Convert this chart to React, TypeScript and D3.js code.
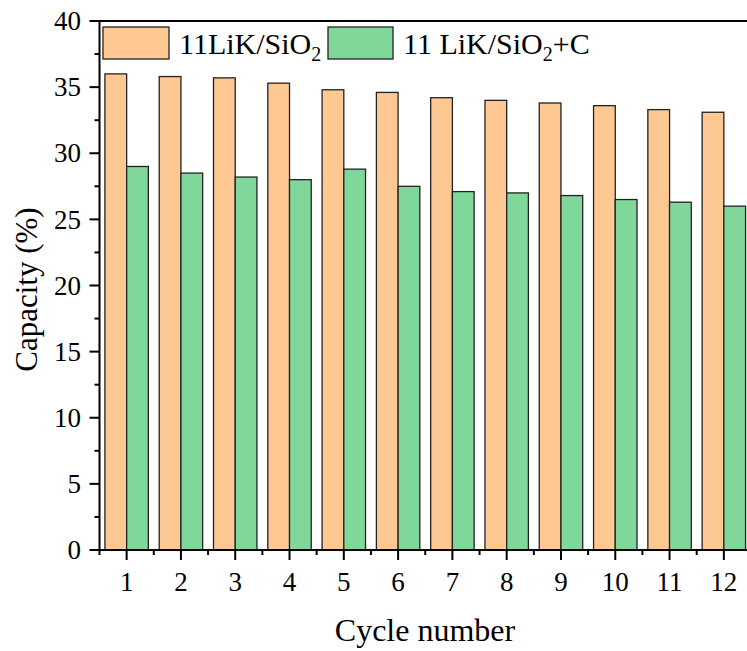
import * as d3 from 'd3';
import React from 'react';

// cycle numbers on the x axis
const cycles = [1, 2, 3, 4, 5, 6, 7, 8, 9, 10, 11, 12];
// capacity (%) per cycle
const capSiO2 = [36.0, 35.8, 35.7, 35.3, 34.8, 34.6, 34.2, 34.0, 33.8, 33.6, 33.3, 33.1];
const capSiO2C = [29.0, 28.5, 28.2, 28.0, 28.8, 27.5, 27.1, 27.0, 26.8, 26.5, 26.3, 26.0];
const yTicks = [0, 5, 10, 15, 20, 25, 30, 35, 40];

const W = 747, H = 651;
const font = '"Liberation Serif", "Times New Roman", serif';

export default function App() {
  const x = d3.scaleLinear().domain([0.5, 12.5]).range([99.5, 751]);
  const y = d3.scaleLinear().domain([0, 40]).range([550, 21]);
  const barW = 0.4;

  const minorY = d3.range(2.5, 40, 5);
  const minorX = d3.range(0.5, 13, 1);

  const series = [
    { vals: capSiO2, fill: '#FEC892', off: -barW },
    { vals: capSiO2C, fill: '#7FD89A', off: 0 },
  ];

  return (
    <svg width={W} height={H} style={{ position: 'absolute', left: 0, top: 0, background: '#fff' }}
      fontFamily={font}>
      {series.map((s, si) => (
        <g key={si}>
          {cycles.map((c, i) => (
            <rect key={c}
              x={x(c + s.off)} y={y(s.vals[i])}
              width={x(c + s.off + barW) - x(c + s.off)}
              height={y(0) - y(s.vals[i])}
              fill={s.fill} stroke="#222" strokeWidth={1.3} />
          ))}
        </g>
      ))}

      {/* frame */}
      <line x1={x.range()[0]} x2={W} y1={y(40)} y2={y(40)} stroke="#000" strokeWidth={2} />
      <line x1={x.range()[0]} x2={x.range()[0]} y1={y(40) - 1} y2={y(0) + 1} stroke="#000" strokeWidth={2} />
      <line x1={x.range()[0] - 1} x2={W} y1={y(0)} y2={y(0)} stroke="#000" strokeWidth={2} />

      {/* y ticks */}
      {yTicks.map(t => (
        <g key={t}>
          <line x1={x.range()[0] - 10} x2={x.range()[0]} y1={y(t)} y2={y(t)} stroke="#000" strokeWidth={2} />
          <text x={81} y={y(t)} dy="0.34em" textAnchor="end" fontSize={27}>{t}</text>
        </g>
      ))}
      {minorY.map(t => (
        <line key={t} x1={x.range()[0] - 5} x2={x.range()[0]} y1={y(t)} y2={y(t)} stroke="#000" strokeWidth={2} />
      ))}

      {/* x ticks */}
      {cycles.map(c => (
        <g key={c}>
          <line x1={x(c)} x2={x(c)} y1={y(0)} y2={y(0) + 10} stroke="#000" strokeWidth={2} />
          <text x={x(c)} y={591} textAnchor="middle" fontSize={27}>{c}</text>
        </g>
      ))}
      {minorX.map(c => (
        <line key={c} x1={x(c)} x2={x(c)} y1={y(0)} y2={y(0) + 5} stroke="#000" strokeWidth={2} />
      ))}

      {/* axis titles */}
      <text x={425} y={641} textAnchor="middle" fontSize={32}>Cycle number</text>
      <text transform={`translate(37,${(y(0) + y(40)) / 2 + 4}) rotate(-90)`} textAnchor="middle" fontSize={31}>Capacity (%)</text>

      {/* legend */}
      <rect x={103} y={27} width={66} height={32} fill="#FEC892" stroke="#222" strokeWidth={1.3} />
      <text x={179} y={54} fontSize={30}>11LiK/SiO<tspan fontSize={20} dy={7}>2</tspan></text>
      <rect x={328} y={27} width={65} height={32} fill="#7FD89A" stroke="#222" strokeWidth={1.3} />
      <text x={403} y={54} fontSize={30}>11 LiK/SiO<tspan fontSize={20} dy={7}>2</tspan><tspan dy={-7}>+C</tspan></text>
    </svg>
  );
}
